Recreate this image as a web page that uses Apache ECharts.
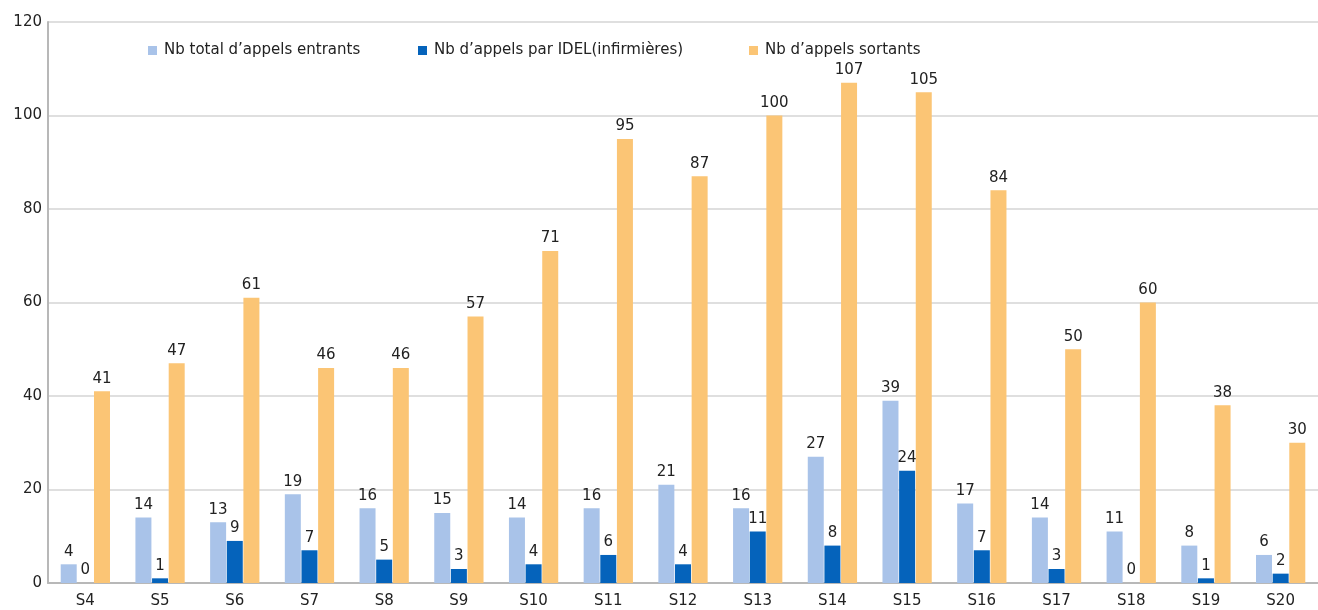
<!DOCTYPE html>
<html>
<head>
<meta charset="utf-8">
<script src="https://cdn.jsdelivr.net/npm/echarts@6/dist/echarts.min.js"></script>
<style>
  html, body { margin: 0; padding: 0; background: #fff; }
  #chart { width: 1318px; height: 610px; }
</style>
</head>
<body>
<div id="chart"></div>
<script>
// semaines
var categories = ['S4', 'S5', 'S6', 'S7', 'S8', 'S9', 'S10', 'S11', 'S12', 'S13', 'S14', 'S15', 'S16', 'S17', 'S18', 'S19', 'S20'];
var entrants = [4, 14, 13, 19, 16, 15, 14, 16, 21, 16, 27, 39, 17, 14, 11, 8, 6];
var idel = [0, 1, 9, 7, 5, 3, 4, 6, 4, 11, 8, 24, 7, 3, 0, 1, 2];
var sortants = [41, 47, 61, 46, 46, 57, 71, 95, 87, 100, 107, 105, 84, 50, 60, 38, 30];
var seriesNames = ['Nb total d’appels entrants', 'Nb d’appels par IDEL(infirmières)', 'Nb d’appels sortants'];

var FONT = '"DejaVu Sans", Verdana, sans-serif';
var myChart = echarts.init(document.getElementById('chart'));

var labelStyle = {
  show: true,
  position: 'top',
  distance: 5,
  color: '#222',
  fontFamily: FONT,
  fontSize: 15
};

// une légende par série, pour caler chaque entrée
var legendLeft = [143, 413, 744];
var legends = seriesNames.map(function (name, i) {
  return {
    data: [name],
    top: 38,
    left: legendLeft[i],
    itemWidth: 9,
    itemHeight: 9,
    icon: 'rect',
    textStyle: { color: '#222', fontSize: 15, fontFamily: FONT, padding: [0, 0, 0, 2] }
  };
});

var option = {
  animation: false,
  textStyle: { fontFamily: FONT },
  legend: legends,
  grid: {
    left: 48,
    top: 22,
    width: 1285,
    height: 561,
    containLabel: false
  },
  xAxis: {
    type: 'category',
    data: categories,
    axisTick: { show: false },
    axisLine: { lineStyle: { color: '#b8b8b8', width: 2 } },
    axisLabel: { color: '#222', fontSize: 15, fontFamily: FONT, margin: 11 }
  },
  yAxis: {
    type: 'value',
    min: 0,
    max: 120,
    interval: 20,
    axisLine: { show: true, lineStyle: { color: '#b8b8b8', width: 2 } },
    axisTick: { show: false },
    splitLine: { lineStyle: { color: '#d4d4d4', width: 1.5 } },
    axisLabel: { color: '#222', fontSize: 15, fontFamily: FONT, margin: 6 }
  },
  series: [
    {
      name: seriesNames[0],
      type: 'bar',
      data: entrants,
      barWidth: 16,
      barGap: '4%',
      itemStyle: { color: '#a9c3e9' },
      label: labelStyle
    },
    {
      name: seriesNames[1],
      type: 'bar',
      data: idel,
      barWidth: 16,
      barGap: '4%',
      itemStyle: { color: '#0563bb' },
      label: labelStyle
    },
    {
      name: seriesNames[2],
      type: 'bar',
      data: sortants,
      barWidth: 16,
      barGap: '4%',
      itemStyle: { color: '#fbc575' },
      label: labelStyle
    }
  ]
};

myChart.setOption(option);
</script>
</body>
</html>
